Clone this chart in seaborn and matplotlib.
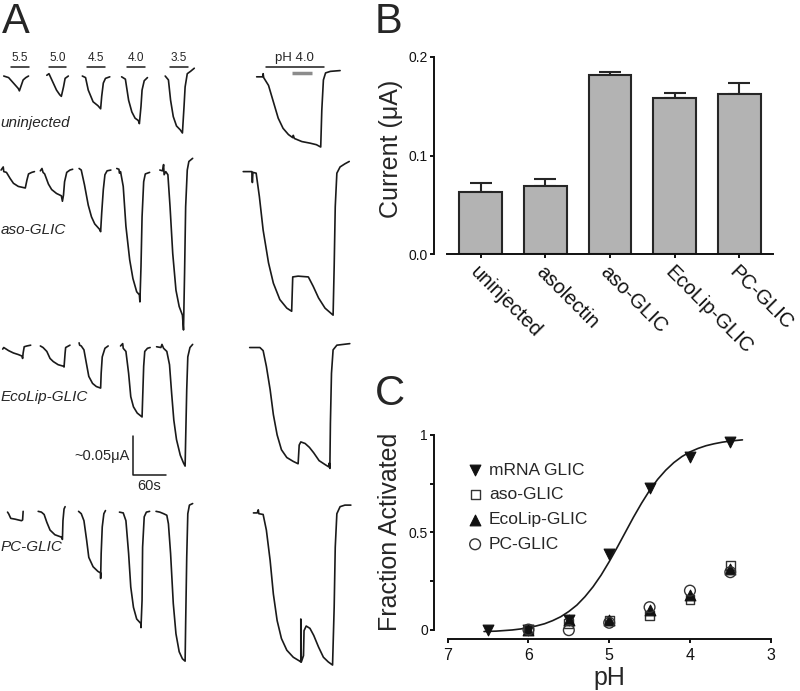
import matplotlib
matplotlib.use('Agg')
import matplotlib.pyplot as plt
import numpy as np
import seaborn as sns


# ---------------- Panel A: example traces ----------------
# time in s from the start of each application column, current in nA from the row baseline
ph_steps = ['5.5', '5.0', '4.5', '4.0', '3.5']
app_start = [20, 20, 17, 19, 28]
app_len = [33, 31, 34, 33, 34]
long_app = [41.5, 108.5]      # pH 4.0 long application (start, duration)
gray_app = [90.5, 36.5]
row_names = ['uninjected', 'aso-GLIC', 'EcoLip-GLIC', 'PC-GLIC']

uninj_t = [
    [7, 16, 25, 34, 36, 38, 43, 48, 53],
    [16, 20, 22, 28, 34, 40, 43, 47, 50, 56],
    [8, 14, 19, 28, 37, 42, 44, 47, 51, 59],
    [9, 16, 22, 28, 34, 40, 42, 45, 47, 51, 57],
    [19, 25, 29, 34, 40, 47, 51, 54, 56, 60, 66, 73],
    [25, 36, 37, 38, 47, 56, 65, 74, 84, 92, 93, 95, 109, 124, 136, 144, 146, 149, 153, 162, 180],
]
uninj_i = [
    [0, -2, -9, -16, -19, -15, -5, -2, 0],
    [1, 3, 0, -9, -18, -24, -26, -14, -3, 0],
    [0, -2, -18, -33, -38, -42, -26, -9, -3, -1],
    [-1, -4, -31, -46, -54, -57, -61, -39, -18, -6, -2],
    [0, -5, -31, -52, -64, -69, -73, -39, -14, 3, 6, 10],
    [-1, -1, 3, -2, -12, -33, -54, -67, -75, -79, -76, -80, -84, -86, -88, -91, -44, -5, 4, 6, 7],
]
aso_t = [
    [2, 6, 7, 12, 19, 25, 34, 47, 50, 53, 59, 64],
    [4, 7, 9, 12, 19, 25, 34, 43, 45, 47, 49, 53, 59, 64],
    [2, 6, 12, 19, 25, 31, 40, 42, 44, 47, 50, 54, 61],
    [0, 4, 5, 7, 12, 17, 24, 30, 37, 42, 43, 45, 47, 50, 53, 61],
    [9, 14, 16, 17, 20, 24, 28, 33, 39, 45, 51, 53, 55, 57, 60, 63, 70],
    [0, 16, 17, 18, 24, 30, 37, 47, 56, 68, 81, 90, 92, 102, 121, 130, 140, 152, 167, 169, 171, 174, 180, 189, 197],
]
aso_i = [
    [2, 6, 0, -1, -9, -15, -19, -21, -11, -3, -1, 0],
    [1, 4, -1, -3, -16, -23, -28, -31, -38, -30, -13, -1, 2, 3],
    [4, 2, -17, -43, -58, -67, -74, -77, -53, -23, -4, 1, 2],
    [4, 3, -2, 0, -19, -70, -113, -137, -154, -158, -167, -122, -58, -13, -3, -1],
    [2, 1, 9, -4, 0, -4, -45, -105, -152, -173, -184, -203, -130, -45, 2, 13, 17],
    [0, 0, -14, -1, -2, -32, -75, -117, -143, -164, -175, -179, -135, -134, -135, -147, -162, -175, -184, -122, -45, -2, 6, 10, 13],
]
ecolip_t = [
    [5, 7, 16, 25, 34, 41, 42, 43, 45, 50, 57],
    [4, 9, 16, 22, 28, 37, 47, 48, 50, 51, 59],
    [2, 3, 6, 11, 16, 20, 27, 34, 42, 43, 45, 50, 56],
    [7, 11, 12, 17, 22, 26, 31, 38, 47, 48, 50, 52, 57, 62],
    [3, 11, 13, 16, 22, 27, 31, 35, 40, 47, 53, 56, 57, 59, 61, 65, 70],
    [12, 31, 37, 43, 50, 56, 63, 71, 81, 93, 102, 104, 107, 115, 123, 131, 141, 152, 159, 160, 161, 162, 164, 167, 174, 198],
]
ecolip_i = [
    [-4, -2, -6, -9, -11, -13, -16, -9, -1, 0, 1],
    [0, -2, -7, -16, -20, -24, -26, -27, -9, -2, 1],
    [4, 1, 0, -5, -24, -39, -48, -52, -54, -35, -14, -3, 0],
    [0, 3, -3, -7, -35, -65, -78, -86, -91, -69, -26, -7, -3, -2],
    [-1, -2, 2, -3, -7, -24, -61, -95, -120, -140, -150, -154, -120, -56, -14, -2, 2],
    [-2, -2, -6, -26, -56, -88, -114, -133, -143, -148, -151, -127, -123, -125, -130, -137, -147, -152, -155, -150, -157, -99, -35, -5, 1, 3],
]
pc_t = [
    [14, 16, 20, 28, 40, 42, 43],
    [0, 6, 11, 16, 22, 31, 43, 45, 46, 48, 50],
    [1, 6, 11, 16, 20, 28, 37, 42, 42, 43, 45, 48, 51],
    [5, 12, 17, 22, 26, 31, 37, 45, 45, 47, 48, 51, 55, 61],
    [2, 9, 16, 22, 25, 29, 34, 39, 45, 51, 56, 57, 59, 61, 64, 70],
    [19, 26, 28, 29, 37, 43, 50, 56, 63, 71, 81, 93, 105, 107, 107, 108, 112, 113, 117, 124, 131, 140, 149, 158, 166, 169, 171, 174, 180, 189, 200],
]
pc_i = [
    [0, -2, -8, -9, -11, -10, 1],
    [1, 0, -3, -13, -23, -29, -32, -35, -11, 4, 7],
    [1, -2, -11, -36, -58, -70, -76, -78, -85, -53, -19, -2, 2],
    [0, -1, -11, -53, -96, -122, -137, -143, -148, -113, -45, -6, 0, 1],
    [1, 0, -2, -4, -15, -53, -117, -156, -179, -188, -191, -143, -58, -2, 9, 11],
    [-1, -1, 3, -2, -3, -23, -62, -105, -139, -162, -177, -186, -191, -192, -137, -192, -184, -152, -146, -149, -158, -173, -186, -192, -196, -122, -45, -2, 7, 9, 9],
]

# ---------------- Panel B: peak currents ----------------
groups = ['uninjected', 'asolectin', 'aso-GLIC', 'EcoLip-GLIC', 'PC-GLIC']
current_mean = [0.063, 0.069, 0.181, 0.158, 0.162]
current_sem = [0.009, 0.0075, 0.0035, 0.0055, 0.011]

# ---------------- Panel C: pH dependence ----------------
ph_mrna = [6.5, 6.0, 5.5, 5.0, 4.5, 4.0, 3.5]
frac_mrna = [0.0, 0.0, 0.05, 0.39, 0.73, 0.885, 0.966]
ph_lip = [6.0, 5.5, 5.0, 4.5, 4.0, 3.5]
frac_aso = [0.0, 0.03, 0.045, 0.072, 0.155, 0.33]
frac_ecolip = [0.0, 0.048, 0.05, 0.10, 0.18, 0.31]
frac_pc = [0.0, -0.003, 0.035, 0.115, 0.20, 0.295]

fit_ph = [6.55, 6.4, 6.2, 6.1, 6.0, 5.9, 5.8, 5.7, 5.6, 5.5, 5.4, 5.3, 5.2, 5.1, 5.0, 4.9,
          4.8, 4.7, 4.6, 4.5, 4.4, 4.3, 4.2, 4.1, 4.0, 3.9, 3.8, 3.7, 3.6, 3.5, 3.35]
fit_frac = [-0.010, -0.008, -0.002, 0.003, 0.010, 0.019, 0.030, 0.046, 0.066, 0.093, 0.126,
            0.169, 0.220, 0.280, 0.349, 0.423, 0.500, 0.577, 0.649, 0.715, 0.772, 0.819,
            0.858, 0.889, 0.913, 0.931, 0.945, 0.955, 0.963, 0.969, 0.975]


sns.set_style('ticks')
plt.rcParams['font.family'] = ['Liberation Sans', 'DejaVu Sans']
plt.rcParams['axes.linewidth'] = 1.4
plt.rcParams['xtick.major.width'] = 1.4
plt.rcParams['ytick.major.width'] = 1.4
plt.rcParams['ytick.minor.width'] = 1.4
plt.rcParams['xtick.major.size'] = 3
plt.rcParams['ytick.major.size'] = 3
plt.rcParams['ytick.minor.size'] = 3
plt.rcParams['xtick.color'] = '#111111'
plt.rcParams['ytick.color'] = '#111111'
plt.rcParams['axes.edgecolor'] = '#111111'

W, H = 800, 691
fig = plt.figure(figsize=(8, 6.91), dpi=100)
INK = '#1a1a1a'


def px_axes(left, top, right, bottom):
    return fig.add_axes([left / W, (H - bottom) / H, (right - left) / W, (bottom - top) / H])


# ---- panel A
ax_a = px_axes(0, 40, 360, 690)
col_x = [0, 71, 145, 217, 288, 452]
row_y = [0, -0.1225, -0.346, -0.559]
label_dy = [-0.060, -0.075, -0.0655, -0.045]
rows = [(uninj_t, uninj_i), (aso_t, aso_i), (ecolip_t, ecolip_i), (pc_t, pc_i)]
for r, (ts, cs) in enumerate(rows):
    for c, (t, cur) in enumerate(zip(ts, cs)):
        sns.lineplot(x=np.array(t) + col_x[c], y=np.array(cur) / 1000 + row_y[r],
                     sort=False, estimator=None, color=INK, lw=1.2, ax=ax_a)
    ax_a.text(1.3, row_y[r] + label_dy[r], row_names[r], fontsize=11, style='italic',
              va='center', ha='left')

bar_y = 0.0119
for c in range(5):
    x0 = col_x[c] + app_start[c]
    ax_a.plot([x0, x0 + app_len[c]], [bar_y, bar_y], color=INK, lw=1.1)
    ax_a.annotate(ph_steps[c], (x0 + app_len[c] / 2, bar_y), xytext=(0, 2),
                  textcoords='offset points', ha='center', va='bottom', fontsize=8.5)
x0 = col_x[5] + long_app[0]
ax_a.plot([x0, x0 + long_app[1]], [bar_y, bar_y], color=INK, lw=1.1)
ax_a.annotate('pH 4.0', (x0 + long_app[1] / 2, bar_y), xytext=(0, 2),
              textcoords='offset points', ha='center', va='bottom', fontsize=9.5)
g0 = col_x[5] + gray_app[0]
ax_a.plot([g0, g0 + gray_app[1]], [0.0035, 0.0035], color='#8c8c8c', lw=2.5,
          solid_capstyle='butt')

# scale bar: 0.05 uA, 60 s
sb_x, sb_y = 247.7, -0.5115
ax_a.plot([sb_x, sb_x, sb_x + 60], [sb_y + 0.05, sb_y, sb_y], color=INK, lw=1.1)
ax_a.text(sb_x - 6, sb_y + 0.025, '~0.05μA', ha='right', va='center', fontsize=10.5)
ax_a.text(sb_x + 30, sb_y - 0.014, '60s', ha='center', va='center', fontsize=10.5)

ax_a.set_xlim(0, 669)
ax_a.set_ylim(-0.787, 0.0462)
ax_a.set_axis_off()

# ---- panel B
ax_b = px_axes(447, 56.7, 773, 254.3)
sns.barplot(x=groups, y=current_mean, color='#b3b3b3', edgecolor='#262626',
            linewidth=1.5, width=0.66, saturation=1, errorbar=None, ax=ax_b, zorder=2)
ax_b.errorbar(np.arange(len(groups)), current_mean, yerr=[[0] * 5, current_sem],
              fmt='none', ecolor='#262626', elinewidth=1.5, capsize=8, capthick=1.5, zorder=1)
ax_b.set_xlim(-0.52, 4.52)
ax_b.set_ylim(0, 0.2)
ax_b.set_yticks([0, 0.1, 0.2])
ax_b.set_yticklabels(['0.0', '0.1', '0.2'], fontsize=11.5)
ax_b.tick_params(axis='y', pad=1.5)
ax_b.tick_params(axis='x', pad=3)
ax_b.set_xticks(range(5))
ax_b.set_xticklabels(groups, rotation=-45, ha='left', va='top', rotation_mode='anchor',
                     fontsize=14.5)
sns.despine(ax=ax_b)
ax_b.spines['left'].set_position(('outward', 9.3))
ax_b.set_xlabel('')
ax_b.set_ylabel('Current (μA)', fontsize=18)
ax_b.yaxis.set_label_coords(-0.135, 0.535)

# ---- panel C
ax_c = px_axes(447.7, 435, 770.7, 639.3)
sns.lineplot(x=fit_ph, y=fit_frac, sort=False, estimator=None, color=INK, lw=1.2, ax=ax_c)
sns.scatterplot(x=ph_mrna, y=frac_mrna, marker='v', s=60, color='#111111', edgecolor='#111111',
                linewidth=0.8, label='mRNA GLIC', ax=ax_c, zorder=3, clip_on=False)
sns.scatterplot(x=ph_lip, y=frac_aso, marker='s', s=40, facecolor='none', edgecolor='#333333',
                linewidth=1.0, label='aso-GLIC', ax=ax_c, zorder=3)
sns.scatterplot(x=ph_lip, y=frac_ecolip, marker='^', s=60, color='#111111', edgecolor='#111111',
                linewidth=0.8, label='EcoLip-GLIC', ax=ax_c, zorder=4)
sns.scatterplot(x=ph_lip, y=frac_pc, marker='o', s=60, facecolor='none', edgecolor='#333333',
                linewidth=1.0, label='PC-GLIC', ax=ax_c, zorder=4)
ax_c.set_xlim(7, 3)
ax_c.set_ylim(-0.05, 1.0)
ax_c.set_xticks([7, 6, 5, 4, 3])
ax_c.set_xticklabels(['7', '6', '5', '4', '3'], fontsize=11.5)
ax_c.set_yticks([0, 0.5, 1])
ax_c.set_yticklabels(['0', '0.5', '1'], fontsize=11.5)
ax_c.set_yticks([0.25, 0.75], minor=True)
ax_c.tick_params(axis='y', pad=1.5)
ax_c.tick_params(axis='x', pad=3)
sns.despine(ax=ax_c)
ax_c.spines['left'].set_position(('outward', 9.6))
ax_c.spines['left'].set_bounds(0, 1)
ax_c.set_xlabel('pH', fontsize=18)
ax_c.xaxis.set_label_coords(0.502, -0.13)
ax_c.set_ylabel('Fraction Activated', fontsize=18)
ax_c.yaxis.set_label_coords(-0.1415, 0.528)
ax_c.legend(loc='upper left', bbox_to_anchor=(0.058, 0.865), frameon=False, fontsize=12.5,
            handlelength=1.0, handletextpad=0.3, labelspacing=0.55, borderpad=0,
            borderaxespad=0, scatterpoints=1)

# panel letters
for letter, x, y in [('A', 2, 33), ('B', 375, 33), ('C', 375, 405)]:
    fig.text(x / W, (H - y) / H, letter, fontsize=30, va='baseline', ha='left')

fig.savefig('out.png', dpi=100)
